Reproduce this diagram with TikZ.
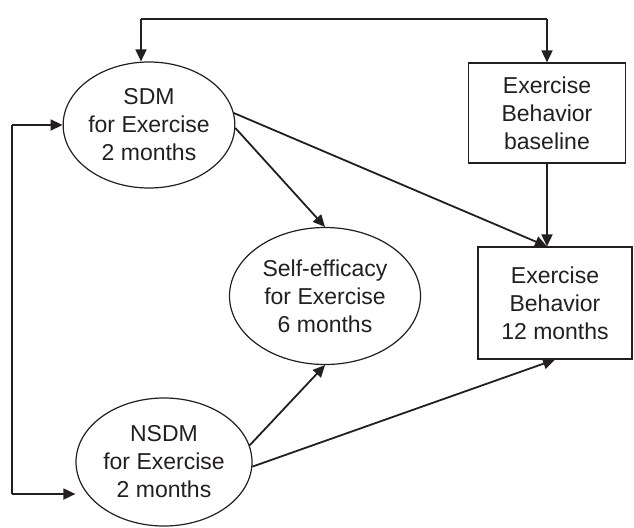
\documentclass[tikz,border=0pt]{standalone}
\usepackage{fontspec}
\setmainfont{Liberation Sans}
\usetikzlibrary{shapes.geometric,arrows.meta}
\definecolor{ink}{HTML}{231F20}
\tikzset{
  every node/.style={font=\fontsize{23}{28}\selectfont, text=ink, align=center, inner sep=0pt},
  oval/.style={ellipse, draw=ink, line width=1.2pt},
  boxnode/.style={rectangle, draw=ink, line width=1.2pt},
  link/.style={draw=ink, line width=1.8pt, -{Triangle[length=12pt,width=11pt]}},
  plainlink/.style={draw=ink, line width=1.8pt},
}
\begin{document}
\begin{tikzpicture}[x=1pt,y=-1pt]
  \useasboundingbox (0,0) rectangle (634,527);
  % variables
  \node[oval, minimum width=164pt, minimum height=126pt] (sdm) at (149,125) {SDM\\for Exercise\\2 months};
  \node[oval, minimum width=176pt, minimum height=128pt] (nsdm) at (164,462) {NSDM\\for Exercise\\2 months};
  \node[oval, minimum width=191pt, minimum height=137pt] (se) at (325,296) {Self-efficacy\\for Exercise\\6 months};
  \node[boxnode, minimum width=157pt, minimum height=100pt] (base) at (547,113) {Exercise\\Behavior\\baseline};
  \node[boxnode, minimum width=154pt, minimum height=112pt] (m12) at (555,303) {Exercise\\Behavior\\12 months};
  % routing points
  \coordinate (tl) at (141,19);
  \coordinate (tr) at (base.north |- tl);
  \coordinate (ll) at (12,125);
  \coordinate (lb) at (12,494);
  % top bracket between SDM and baseline
  \draw[plainlink] (tl) -- (tr);
  \draw[link] (tl) -- (tl |- sdm.north);
  \draw[link] (tr) -- (base.north);
  % left bracket between SDM and NSDM
  \draw[plainlink] (ll) -- (lb);
  \draw[link] (ll) -- (sdm.west |- ll);
  \draw[link] (lb) -- (nsdm.west |- lb);
  % paths
  \draw[link] (sdm.8) -- (base.south |- m12.north);
  \draw[link] (sdm.-2) -- (se.north);
  \draw[link] (base.south) -- (m12.north -| base.south);
  \draw[link] (nsdm.11) -- (se.south);
  \draw[link] (nsdm.-3) -- (m12.south);
\end{tikzpicture}
\end{document}
